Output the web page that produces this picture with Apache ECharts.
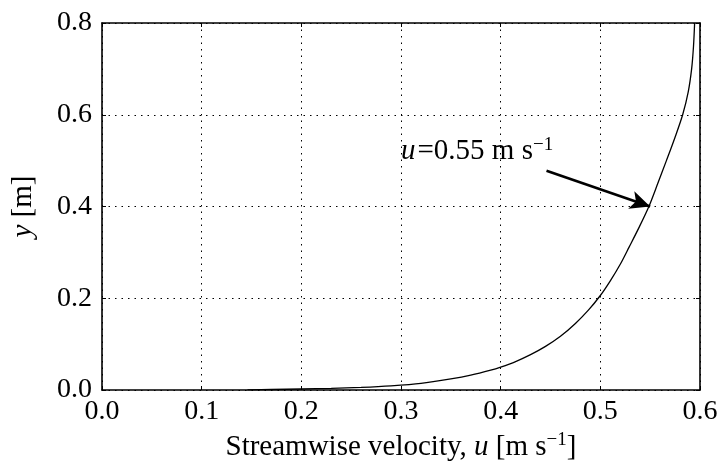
<!DOCTYPE html>
<html>
<head>
<meta charset="utf-8">
<script src="https://cdn.jsdelivr.net/npm/echarts@6/dist/echarts.min.js"></script>
<style>
  html, body { margin: 0; padding: 0; background: #fff; }
  #chart { width: 722px; height: 463px; }
</style>
</head>
<body>
<div id="chart"></div>
<script>
// Velocity profile u(y) above the bed
const velocity = [0.146, 0.17, 0.2, 0.23, 0.26, 0.29, 0.32, 0.35, 0.37, 0.39, 0.4, 0.415, 0.43, 0.445, 0.46, 0.475, 0.488, 0.5, 0.51, 0.52, 0.529, 0.539, 0.5487, 0.5576, 0.5663, 0.5748, 0.5826, 0.5882, 0.5916, 0.5935, 0.5946];
const height   = [0.0004, 0.0011, 0.0022, 0.0035, 0.0058, 0.0092, 0.0145, 0.0242, 0.0324, 0.0433, 0.05, 0.062, 0.077, 0.095, 0.117, 0.145, 0.174, 0.206, 0.238, 0.274, 0.312, 0.355, 0.40, 0.45, 0.50, 0.55, 0.60, 0.65, 0.70, 0.75, 0.80];

// Axis ranges and tick steps
const xRange = [0, 0.6];
const xStep = 0.1;
const yRange = [0, 0.8];
const yStep = 0.2;

// Annotation: arrow from the text to the curve at u = 0.55 m/s
const noteText = { u: 0.30, y: 0.52 };
const arrowFrom = [0.446, 0.478];
const arrowTo = [0.55, 0.40];

const FONT = '"Liberation Serif", "DejaVu Serif", serif';
const SIZE = 28;
const NAME_SIZE = 29;
const SUP_SIZE = 19;

const profile = velocity.map((u, i) => [u, height[i]]);

const gridLine = { show: true, lineStyle: { color: '#000', width: 1, type: [1.5, 5] } };
const frameLine = { show: true, onZero: false, lineStyle: { color: '#000', width: 1.6 } };
const tick = { show: true, inside: true, length: 4, lineStyle: { color: '#000', width: 1 } };

const chart = echarts.init(document.getElementById('chart'), null, { renderer: 'canvas' });

chart.setOption({
  animation: false,
  backgroundColor: '#fff',
  grid: { left: 102, right: 22, top: 23, bottom: 73, containLabel: false, outerBoundsMode: 'none' },
  xAxis: [{
    type: 'value',
    min: xRange[0], max: xRange[1], interval: xStep,
    axisLine: frameLine,
    axisTick: tick,
    splitLine: gridLine,
    axisLabel: {
      color: '#000', fontFamily: FONT, fontSize: SIZE, margin: 8,
      formatter: v => v.toFixed(1)
    },
    name: '{n|Streamwise velocity, }{i|u}{n| [m s}{s|−1}{n|]}',
    nameLocation: 'middle',
    nameGap: 36,
    nameTextStyle: {
      color: '#000', fontFamily: FONT, fontSize: NAME_SIZE,
      rich: {
        n: { fontFamily: FONT, fontSize: NAME_SIZE, color: '#000', lineHeight: 32 },
        i: { fontFamily: FONT, fontSize: NAME_SIZE, fontStyle: 'italic', color: '#000', lineHeight: 32 },
        s: { fontFamily: FONT, fontSize: SUP_SIZE, color: '#000', verticalAlign: 'top', lineHeight: 32, padding: [0, 0, 12, 0] }
      }
    }
  }, {
    type: 'value', position: 'top',
    min: xRange[0], max: xRange[1], interval: xStep,
    axisLine: frameLine, axisTick: tick,
    axisLabel: { show: false }, splitLine: { show: false }
  }],
  yAxis: [{
    type: 'value',
    min: yRange[0], max: yRange[1], interval: yStep,
    axisLine: frameLine,
    axisTick: tick,
    splitLine: gridLine,
    axisLabel: {
      color: '#000', fontFamily: FONT, fontSize: SIZE, margin: 10,
      formatter: v => v.toFixed(1)
    },
    name: '{i|y}{n| [m]}',
    nameLocation: 'middle',
    nameRotate: 90,
    nameGap: 64,
    nameTextStyle: {
      color: '#000', fontFamily: FONT, fontSize: NAME_SIZE,
      rich: {
        n: { fontFamily: FONT, fontSize: NAME_SIZE, color: '#000' },
        i: { fontFamily: FONT, fontSize: NAME_SIZE, fontStyle: 'italic', color: '#000' }
      }
    }
  }, {
    type: 'value', position: 'right',
    min: yRange[0], max: yRange[1], interval: yStep,
    axisLine: frameLine, axisTick: tick,
    axisLabel: { show: false }, splitLine: { show: false }
  }],
  series: [{
    type: 'line',
    data: profile,
    showSymbol: false,
    smooth: 0.3,
    clip: true,
    lineStyle: { color: '#000', width: 1.3 },
    markLine: {
      silent: true,
      symbol: ['none', 'arrow'],
      symbolSize: [14, 20],
      label: { show: false },
      lineStyle: { color: '#000', width: 2.6, type: 'solid' },
      data: [[{ coord: arrowFrom }, { coord: arrowTo }]]
    },
    markPoint: {
      silent: true,
      symbol: 'circle',
      symbolSize: 0,
      label: {
        show: true,
        position: 'right',
        distance: 0,
        formatter: '{i|u}{n|=0.55 m s}{s|−1}',
        rich: {
          n: { fontFamily: FONT, fontSize: NAME_SIZE, color: '#000', lineHeight: 32 },
          i: { fontFamily: FONT, fontSize: NAME_SIZE, fontStyle: 'italic', color: '#000', lineHeight: 32, padding: [0, 2, 0, 0] },
          s: { fontFamily: FONT, fontSize: SUP_SIZE, color: '#000', verticalAlign: 'top', lineHeight: 32, padding: [0, 0, 12, 0] }
        }
      },
      data: [{ coord: [noteText.u, noteText.y] }]
    }
  }]
});
</script>
</body>
</html>
